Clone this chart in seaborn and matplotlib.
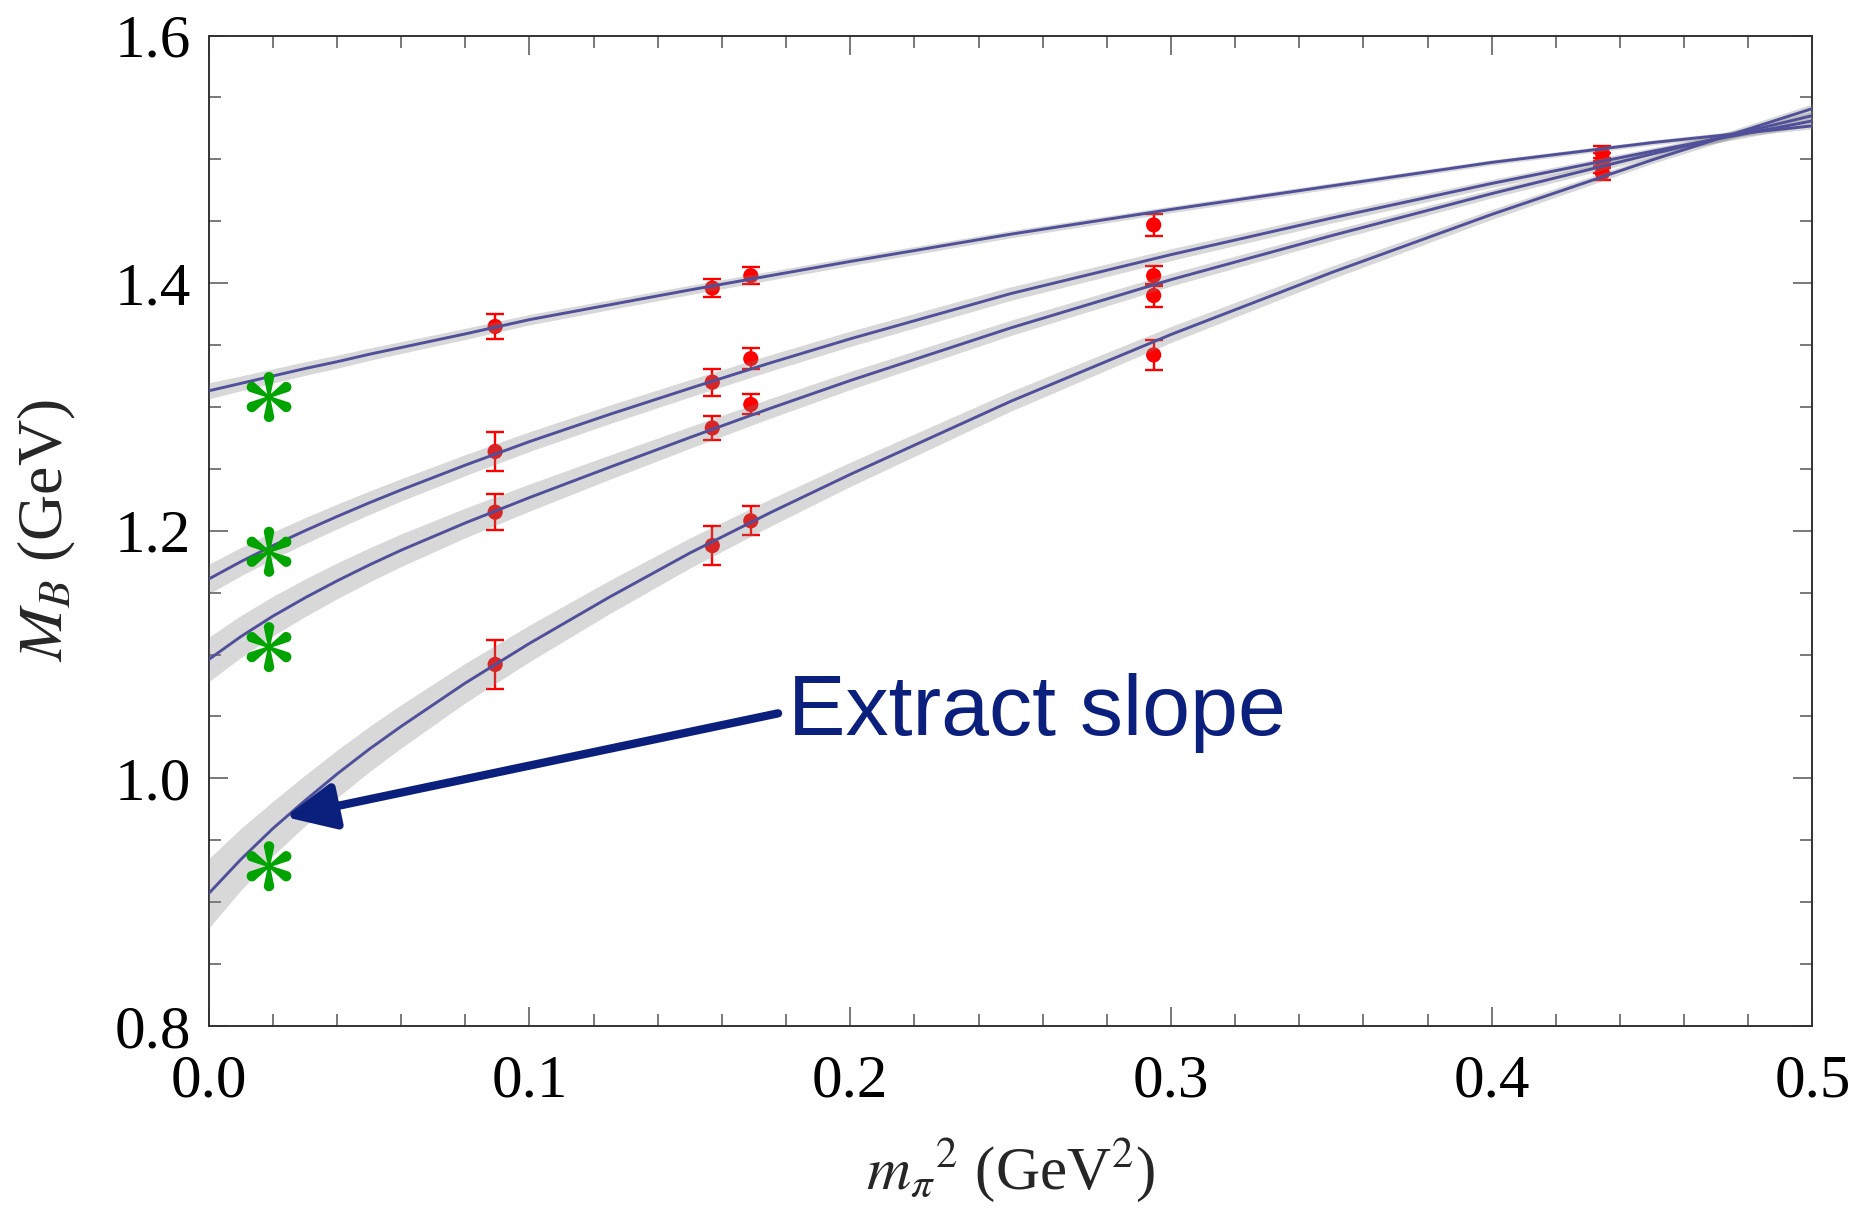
import numpy as np
import pandas as pd
import matplotlib
matplotlib.use("Agg")
import matplotlib.pyplot as plt
from matplotlib.path import Path
from matplotlib.ticker import MultipleLocator, FormatStrFormatter
import seaborn as sns

# ---------------------------------------------------------------------------
# Lattice data: baryon masses vs pion mass squared
# ---------------------------------------------------------------------------
baryons = ["Xi", "Sigma", "Lambda", "N"]
mpi2 = [0.0893, 0.157, 0.169, 0.2946, 0.4345]

mass_xi = [1.365, 1.396, 1.406, 1.447, 1.505]
err_xi = [0.0104, 0.0075, 0.0067, 0.0090, 0.0060]
mass_sigma = [1.264, 1.320, 1.339, 1.406, 1.499]
err_sigma = [0.0156, 0.0109, 0.0083, 0.0080, 0.0060]
mass_lambda = [1.215, 1.283, 1.302, 1.390, 1.495]
err_lambda = [0.0144, 0.0098, 0.0081, 0.0090, 0.0060]
mass_n = [1.092, 1.188, 1.208, 1.342, 1.489]
err_n = [0.0195, 0.0160, 0.0117, 0.0120, 0.0060]

# Physical point (experimental masses)
phys_mpi2 = [0.0188, 0.0188, 0.0188, 0.0188]
phys_mass = [1.308, 1.183, 1.106, 0.929]

# Chiral fit curves with their error bands
fit_x = [0.0, 0.01, 0.02, 0.03, 0.04, 0.05, 0.06, 0.08, 0.10, 0.125,
         0.15, 0.175, 0.20, 0.25, 0.30, 0.35, 0.40, 0.45, 0.50]
fit_xi = [1.313, 1.319, 1.325, 1.331, 1.3365, 1.3425, 1.348, 1.359, 1.3705,
          1.3825, 1.3945, 1.406, 1.4175, 1.4395, 1.4595, 1.4785, 1.4975,
          1.5135, 1.527]
fit_sigma = [1.161, 1.175, 1.188, 1.200, 1.2115, 1.2225, 1.233, 1.253, 1.272,
             1.294, 1.315, 1.3355, 1.355, 1.3915, 1.423, 1.4525, 1.4805,
             1.5065, 1.531]
fit_lambda = [1.096, 1.1145, 1.131, 1.1458, 1.1595, 1.1723, 1.1843, 1.2063,
              1.2268, 1.2513, 1.2753, 1.2988, 1.3213, 1.3638, 1.4028, 1.4383,
              1.4723, 1.5043, 1.5353]
fit_n = [0.907, 0.9345, 0.9595, 0.982, 1.0035, 1.0235, 1.042, 1.077, 1.109,
         1.1465, 1.182, 1.2145, 1.2455, 1.3045, 1.3585, 1.4085, 1.4555,
         1.4995, 1.541]

band_xi = [0.0065, 0.0060, 0.0058, 0.0055, 0.0053, 0.0050, 0.0048, 0.0045,
           0.0042, 0.0040, 0.0038, 0.0036, 0.0034, 0.0030, 0.0027, 0.0024,
           0.0021, 0.0020, 0.0025]
band_sigma = [0.0120, 0.0115, 0.0110, 0.0105, 0.0100, 0.0095, 0.0090, 0.0085,
              0.0080, 0.0075, 0.0070, 0.0066, 0.0062, 0.0055, 0.0048, 0.0040,
              0.0033, 0.0028, 0.0035]
band_lambda = [0.0180, 0.0170, 0.0160, 0.0152, 0.0145, 0.0138, 0.0132,
               0.0120, 0.0110, 0.0098, 0.0088, 0.0080, 0.0073, 0.0062,
               0.0052, 0.0043, 0.0035, 0.0030, 0.0035]
band_n = [0.0280, 0.0250, 0.0220, 0.0205, 0.0193, 0.0183, 0.0175, 0.0160,
          0.0148, 0.0135, 0.0122, 0.0110, 0.0098, 0.0080, 0.0065, 0.0052,
          0.0040, 0.0030, 0.0038]

x_ticks = [0.0, 0.1, 0.2, 0.3, 0.4, 0.5]
y_ticks = [0.8, 1.0, 1.2, 1.4, 1.6]

# ---------------------------------------------------------------------------
# Tidy tables
# ---------------------------------------------------------------------------
masses = [mass_xi, mass_sigma, mass_lambda, mass_n]
errors = [err_xi, err_sigma, err_lambda, err_n]
fits = [fit_xi, fit_sigma, fit_lambda, fit_n]
bands = [band_xi, band_sigma, band_lambda, band_n]

points = pd.concat(
    [pd.DataFrame({"baryon": b, "mpi2": mpi2, "mass": m, "err": e})
     for b, m, e in zip(baryons, masses, errors)],
    ignore_index=True,
)
curves = pd.concat(
    [pd.DataFrame({"baryon": b, "mpi2": fit_x, "mass": f, "band": w})
     for b, f, w in zip(baryons, fits, bands)],
    ignore_index=True,
)
phys = pd.DataFrame({"baryon": baryons, "mpi2": phys_mpi2, "mass": phys_mass})

# ---------------------------------------------------------------------------
# Style
# ---------------------------------------------------------------------------
sns.set_theme(style="ticks")
plt.rcParams["font.family"] = ["Liberation Serif", "DejaVu Serif"]
plt.rcParams["mathtext.fontset"] = "stix"

line_color = "#50509a"
navy = "#0b1f7d"
green = "#00a300"


def petal_asterisk():
    """Six-armed asterisk with teardrop-shaped arms."""
    L, r, w0 = 1.0, 0.21, 0.045
    verts = []
    codes = []
    for k in range(6):
        ang = np.deg2rad(90 + 60 * k)
        ux, uy = np.cos(ang), np.sin(ang)
        px, py = -uy, ux
        pts = [(-w0 * px, -w0 * py)]
        c = L - r
        for t in np.linspace(np.pi, 0, 25):
            lx = r * np.cos(t)
            ly = c + r * np.sin(t)
            pts.append((lx * px + ly * ux, lx * py + ly * uy))
        pts.append((w0 * px, w0 * py))
        verts += pts + [pts[0]]
        codes += [Path.MOVETO] + [Path.LINETO] * (len(pts) - 1) + [Path.CLOSEPOLY]
    return Path(verts, codes)


fig = plt.figure(figsize=(18.62, 12.12), dpi=100)
ax = fig.add_axes([0.1121, 0.1535, 0.8613, 0.8172])

# Data points with error bars
ax.errorbar(points["mpi2"], points["mass"], yerr=points["err"], fmt="none",
            ecolor="#ff0000", elinewidth=1.7, capsize=6.5, capthick=1.7,
            zorder=2)
sns.scatterplot(data=points, x="mpi2", y="mass", color="#ff0000", s=120,
                edgecolor="none", linewidth=0, ax=ax, zorder=2, legend=False)

# Fit error bands and central curves
for b in baryons:
    c = curves[curves["baryon"] == b]
    ax.fill_between(c["mpi2"], c["mass"] - c["band"], c["mass"] + c["band"],
                    color="#808080", alpha=0.3, linewidth=0, zorder=3)
sns.lineplot(data=curves, x="mpi2", y="mass", units="baryon", estimator=None,
             color=line_color, linewidth=2.1, ax=ax, zorder=4, legend=False)

# Physical masses
sns.scatterplot(data=phys, x="mpi2", y="mass", marker=petal_asterisk(),
                color=green, s=36 ** 2, edgecolor="none", linewidth=0,
                ax=ax, zorder=5, legend=False)

# Annotation
ax.annotate("", xy=(0.0238, 0.9688), xytext=(0.1775, 1.0525),
            arrowprops=dict(arrowstyle="-|>,head_length=1.5,head_width=0.7",
                            color=navy, lw=6.0, mutation_scale=20,
                            shrinkA=0, shrinkB=0),
            zorder=6)
ax.text(0.1807, 1.0525, "Extract slope", color=navy, fontsize=62,
        family=["Liberation Sans", "DejaVu Sans"], ha="left", va="center",
        zorder=6)

# Axes
ax.set_xlim(0.0, 0.5)
ax.set_ylim(0.8, 1.6)
ax.set_xticks(x_ticks)
ax.set_yticks(y_ticks)
ax.xaxis.set_minor_locator(MultipleLocator(0.02))
ax.yaxis.set_minor_locator(MultipleLocator(0.05))
ax.xaxis.set_major_formatter(FormatStrFormatter("%.1f"))
ax.yaxis.set_major_formatter(FormatStrFormatter("%.1f"))
ax.tick_params(which="both", direction="in", top=True, right=True,
               color="#555555", width=1.1, labelsize=44, labelcolor="black")
ax.tick_params(which="major", length=13.5)
ax.tick_params(which="minor", length=8.5)
ax.tick_params(axis="x", which="major", pad=20)
ax.tick_params(axis="y", which="major", pad=13)
for sp in ax.spines.values():
    sp.set_color("#333333")
    sp.set_linewidth(1.4)

ax.set_xlabel(r"${m_{\pi}}^{2}$ (GeV$^{2}$)", fontsize=44, labelpad=20)
ax.set_ylabel(r"$M_B$ (GeV)", fontsize=46, labelpad=26)

fig.savefig("out.png", dpi=100, facecolor="white")
